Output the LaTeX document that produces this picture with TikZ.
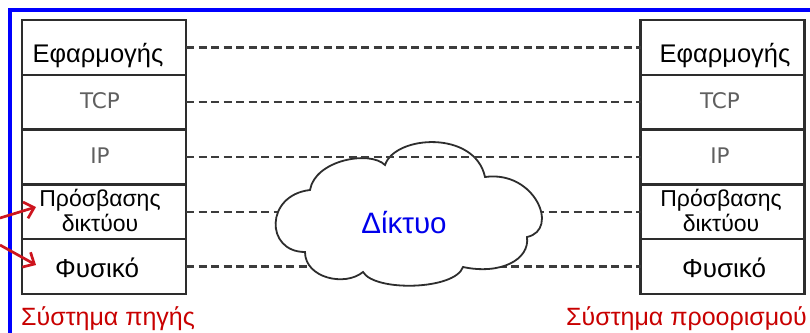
\documentclass[tikz,border=0pt]{standalone}
\usepackage{fontspec}
\setmainfont{Liberation Sans}
\newfontfamily\dejavu{DejaVu Sans}
\usetikzlibrary{arrows.meta}
\definecolor{boxgray}{RGB}{45,45,45}
\definecolor{dashgray}{RGB}{60,60,60}
\definecolor{protogray}{RGB}{95,95,95}
\definecolor{labelred}{RGB}{200,0,0}
\definecolor{arrowred}{RGB}{205,20,30}
\definecolor{netblue}{RGB}{0,0,235}
\tikzset{
  layerbox/.style={draw=boxgray, line width=2.5pt, minimum width=164pt, minimum height=54.8pt, inner sep=0pt, outer sep=0pt},
  laytext/.style={font=\fontsize{25.5}{30}\selectfont, anchor=base, inner sep=0pt},
  phytext/.style={font=\fontsize{26}{30}\selectfont, anchor=base, inner sep=0pt},
  prototext/.style={font=\dejavu\fontsize{21.5}{24}\selectfont, text=protogray, anchor=base, inner sep=0pt},
  acctext/.style={font=\fontsize{23}{25}\selectfont, align=center, inner sep=0pt},
  peerline/.style={draw=dashgray, line width=2.3pt, dash pattern=on 8pt off 4.5pt},
  redarrow/.style={draw=arrowred, line width=2.7pt, -{Straight Barb[length=9pt,width=17pt,line width=2.7pt]}},
  syslabel/.style={font=\fontsize{25}{27}\selectfont, text=labelred, inner sep=0pt},
  cloudline/.style={draw=boxgray, line width=1.8pt, fill=white}
}
\begin{document}
\begin{tikzpicture}[x=1pt, y=-1pt]
\useasboundingbox (0,0) rectangle (810,332);
\begin{scope}
  \clip (0,0) rectangle (810,332);
  \draw[blue, line width=4pt] (10,345) -- (10,10) -- (820,10);
\end{scope}

% protocol stacks
\foreach \i/\y in {1/47.4, 2/102.2, 3/157, 4/211.8, 5/266.6} {
  \node[layerbox] (L\i) at (104,\y) {};
  \node[layerbox] (R\i) at (722.5,\y) {};
}

\node[laytext] (tL1) at (98,62) {Εφαρμογής};
\node[prototext] (tL2) at (100,108) {TCP};
\node[prototext] (tL3) at (100,163) {IP};
\node[acctext] (tL4) at (100,210) {Πρόσβασης\\δικτύου};
\node[phytext] (tL5) at (97,277) {Φυσικό};

\node[laytext] (tR1) at (725,62) {Εφαρμογής};
\node[prototext] (tR2) at (720,108) {TCP};
\node[prototext] (tR3) at (720,163) {IP};
\node[acctext] (tR4) at (721,210) {Πρόσβασης\\δικτύου};
\node[phytext] (tR5) at (724,277) {Φυσικό};

% peer dashed lines
\draw[peerline] (L1.east) -- (R1.west);
\draw[peerline] (L2.east) -- (R2.west);
\draw[peerline] (L4.east) -- (R4.west);
\draw[peerline] (L5.east) -- (R5.west);

% cloud
\draw[cloudline] (385,165)
  .. controls (395,135) and (475,130) .. (485,177)
  .. controls (535,170) and (560,230) .. (527,237)
  .. controls (530,260) and (500,275) .. (463,267)
  .. controls (455,290) and (375,292) .. (363,272)
  .. controls (345,287) and (305,278) .. (305,252)
  .. controls (265,252) and (265,195) .. (310,190)
  .. controls (315,160) and (370,150) .. (385,165) -- cycle;
\node[font=\fontsize{29.5}{32}\selectfont, text=netblue, anchor=base, inner sep=0pt] (net) at (404,233) {Δίκτυο};

\draw[peerline] (L3.east) -- (R3.west);

% red arrows
\coordinate (a1s) at (0,218);
\coordinate (a1e) at (36,207);
\coordinate (a2s) at (0,245);
\coordinate (a2e) at (36,265);
\draw[redarrow] (a1s) -- (a1e);
\draw[redarrow] (a2s) -- (a2e);

% system labels
\node[syslabel, anchor=base west] (src) at (21,325) {Σύστημα πηγής};
\node[syslabel, anchor=base east] (dst) at (807,325) {Σύστημα προορισμού};
\end{tikzpicture}
\end{document}
